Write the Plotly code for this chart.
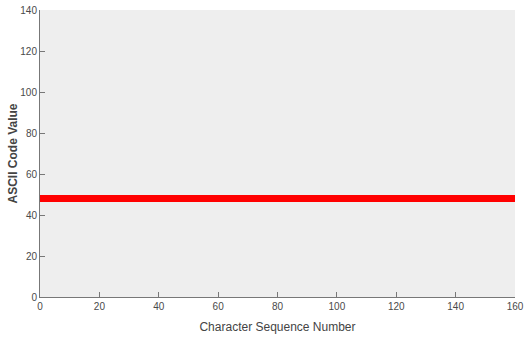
import plotly.graph_objects as go

char_seq = list(range(0, 161))
ascii_vals = [48] * 161
x_ticks = [0, 20, 40, 60, 80, 100, 120, 140, 160]
y_ticks = [0, 20, 40, 60, 80, 100, 120, 140]

fig = go.Figure()
fig.add_trace(go.Scatter(x=char_seq, y=ascii_vals, mode="lines",
                         line=dict(color="#ff0000", width=7), showlegend=False,
                         cliponaxis=False))

font = dict(family="Liberation Sans, Arial, sans-serif", size=10, color="#4a4a4a")
fig.update_layout(
    width=524, height=340,
    margin=dict(l=40, r=9, t=10, b=43, autoexpand=False),
    paper_bgcolor="white", plot_bgcolor="#eeeeee",
    font=font,
)
fig.update_xaxes(range=[0, 160], tickvals=x_ticks, ticks="inside", ticklen=5,
                 tickcolor="#777777", showline=True, linecolor="#777777", linewidth=1,
                 showgrid=False, zeroline=False, automargin=False,
                 ticklabeloverflow="allow",
                 title=dict(text="Character Sequence Number", font=dict(size=12, color="#444444"), standoff=11))
fig.update_yaxes(range=[0, 140], tickvals=y_ticks, ticks="inside", ticklen=5,
                 tickcolor="#777777", showline=True, linecolor="#777777", linewidth=1,
                 showgrid=False, zeroline=False, automargin=False,
                 ticklabeloverflow="allow",
                 title=dict(text="<b>ASCII Code Value</b>", font=dict(size=12, color="#444444"), standoff=0))
fig.write_html("out.html", config={"displayModeBar": False},
               post_script="document.body.style.margin='0px';")
